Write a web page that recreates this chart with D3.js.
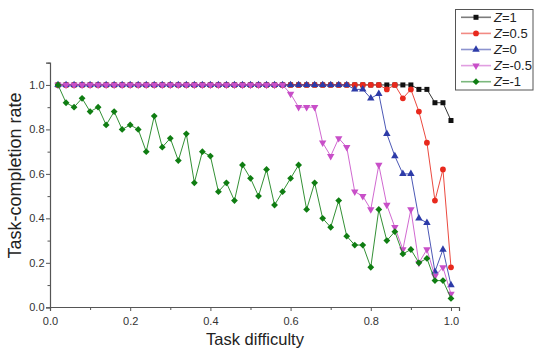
<!DOCTYPE html>
<html><head><meta charset="utf-8">
<script src="https://cdn.jsdelivr.net/npm/d3@7"></script>
<style>
html,body{margin:0;padding:0;background:#fff;}
svg{display:block;font-family:"Liberation Sans",Arial,sans-serif;}
</style></head>
<body><svg id="chart" width="534" height="352"></svg>
<script>
const difficulty = [0.02,0.04,0.06,0.08,0.10,0.12,0.14,0.16,0.18,0.20,
  0.22,0.24,0.26,0.28,0.30,0.32,0.34,0.36,0.38,0.40,
  0.42,0.44,0.46,0.48,0.50,0.52,0.54,0.56,0.58,0.60,
  0.62,0.64,0.66,0.68,0.70,0.72,0.74,0.76,0.78,0.80,
  0.82,0.84,0.86,0.88,0.90,0.92,0.94,0.96,0.98,1.00];

const zOne = [1,1,1,1,1,1,1,1,1,1, 1,1,1,1,1,1,1,1,1,1, 1,1,1,1,1,1,1,1,1,1,
  1,1,1,1,1,1,1,1,1,1, 1,1,1,1,1,0.98,0.98,0.92,0.92,0.84];
const zHalf = [1,1,1,1,1,1,1,1,1,1, 1,1,1,1,1,1,1,1,1,1, 1,1,1,1,1,1,1,1,1,1,
  1,1,1,1,1,1,1,1,1,1, 1,0.98,1,0.94,0.98,0.88,0.74,0.48,0.62,0.18];
const zZero = [1,1,1,1,1,1,1,1,1,1, 1,1,1,1,1,1,1,1,1,1, 1,1,1,1,1,1,1,1,1,1,
  1,1,1,1,1,1,1,0.98,0.98,0.94, 0.96,0.78,0.68,0.60,0.60,0.40,0.38,0.16,0.26,0.10];
const zNegHalf = [1,1,1,1,1,1,1,1,1,1, 1,1,1,1,1,1,1,1,1,1, 1,1,1,1,1,1,1,1,1,0.96,
  0.90,0.90,0.90,0.74,0.68,0.76,0.72,0.52,0.50,0.44, 0.64,0.46,0.36,0.26,0.44,0.20,0.26,0.14,0.18,0.06];
const zNegOne = [1.00,0.92,0.90,0.94,0.88,0.90,0.82,0.88,0.80,0.82,
  0.80,0.70,0.86,0.72,0.76,0.66,0.78,0.56,0.70,0.68,
  0.52,0.56,0.48,0.64,0.58,0.50,0.62,0.46,0.52,0.58,
  0.64,0.44,0.56,0.40,0.36,0.48,0.32,0.28,0.28,0.18,
  0.44,0.30,0.34,0.24,0.26,0.20,0.22,0.12,0.12,0.04];

const seriesNames = ["Z=1","Z=0.5","Z=0","Z=-0.5","Z=-1"];
const seriesValues = [zOne, zHalf, zZero, zNegHalf, zNegOne];
const seriesColors = ["#111111","#e8291d","#2d3ba8","#c84fc8","#0f7d12"];
const seriesMarkers = ["square","circle","triangleUp","triangleDown","diamond"];

const xMajorTicks = [0,0.2,0.4,0.6,0.8,1.0];
const xMinorTicks = [0.1,0.3,0.5,0.7,0.9];
const yMajorTicks = [0,0.2,0.4,0.6,0.8,1.0];
const yMinorTicks = [0.1,0.3,0.5,0.7,0.9,1.1];

const svg = d3.select("#chart");
const x = d3.scaleLinear().domain([0,1.02]).range([50,459]);
const y = d3.scaleLinear().domain([0,1.1]).range([307.3,62.7]);

function markerPath(type){
  if(type==="square") return d3.symbol(d3.symbolSquare,25)();
  if(type==="circle") return d3.symbol(d3.symbolCircle,26)();
  if(type==="triangleUp") return d3.symbol(d3.symbolTriangle,24)();
  if(type==="triangleDown") return d3.symbol(d3.symbolTriangle,24)();
  if(type==="diamond") return "M0,-3.4L3.4,0L0,3.4L-3.4,0Z";
}
function markerRot(type){ return type==="triangleDown" ? " rotate(180)" : ""; }

// axes
const axisColor = "#555";
const xAxis = svg.append("g").attr("transform","translate(0,307)")
  .call(d3.axisBottom(x).tickValues(xMajorTicks).tickFormat(d3.format(".1f")).tickSize(4).tickPadding(6));
svg.append("g").attr("transform","translate(0,307)")
  .call(d3.axisBottom(x).tickValues(xMinorTicks).tickFormat("").tickSize(3))
  .select(".domain").remove();
const yAxis = svg.append("g").attr("transform","translate(50,0)")
  .call(d3.axisLeft(y).tickValues(yMajorTicks).tickFormat(d3.format(".1f")).tickSize(4).tickPadding(1.5));
svg.append("g").attr("transform","translate(50,0)")
  .call(d3.axisLeft(y).tickValues(yMinorTicks).tickFormat("").tickSize(2.5))
  .select(".domain").remove();
svg.selectAll(".domain").attr("stroke",axisColor).attr("stroke-width",1.2);
svg.selectAll(".tick line").attr("stroke",axisColor);
svg.selectAll(".tick text").attr("fill","#333").attr("font-size",11)
  .attr("font-family","'Liberation Sans',Arial,sans-serif");

// axis titles
svg.append("text").attr("x",255).attr("y",345).attr("text-anchor","middle")
  .attr("font-size",16.5).attr("fill","#222").text("Task difficulty");
svg.append("text").attr("transform","translate(21,175.5) rotate(-90)").attr("text-anchor","middle")
  .attr("font-size",18).attr("fill","#222").text("Task-completion rate");

// series
const line = d3.line().x((d,i)=>x(difficulty[i])).y(d=>y(d));
seriesValues.forEach((vals,k)=>{
  const g = svg.append("g");
  g.append("path").attr("d",line(vals)).attr("fill","none")
    .attr("stroke",seriesColors[k]).attr("stroke-width",1).attr("stroke-opacity",0.85);
  g.selectAll("path.m").data(vals).enter().append("path").attr("class","m")
    .attr("d",markerPath(seriesMarkers[k]))
    .attr("transform",(d,i)=>`translate(${x(difficulty[i])},${y(d)})${markerRot(seriesMarkers[k])}`)
    .attr("fill",seriesColors[k]);
});

// legend
const lg = svg.append("g");
lg.append("rect").attr("x",455.5).attr("y",9.5).attr("width",77.5).attr("height",80.5)
  .attr("fill","#fff").attr("stroke","#555").attr("stroke-width",1);
seriesNames.forEach((name,k)=>{
  const yy = 17.3 + k*16.1;
  lg.append("line").attr("x1",461).attr("x2",491).attr("y1",yy).attr("y2",yy)
    .attr("stroke",seriesColors[k]).attr("stroke-width",1.6).attr("stroke-opacity",0.55);
  lg.append("path").attr("d",markerPath(seriesMarkers[k]))
    .attr("transform",`translate(476,${yy})${markerRot(seriesMarkers[k])}`)
    .attr("fill",seriesColors[k]);
  const t = lg.append("text").attr("x",494).attr("y",yy+4.6).attr("font-size",13).attr("fill","#222");
  t.append("tspan").attr("font-style","italic").text(name.slice(0,1));
  t.append("tspan").text(name.slice(1));
});
</script>
</body></html>
